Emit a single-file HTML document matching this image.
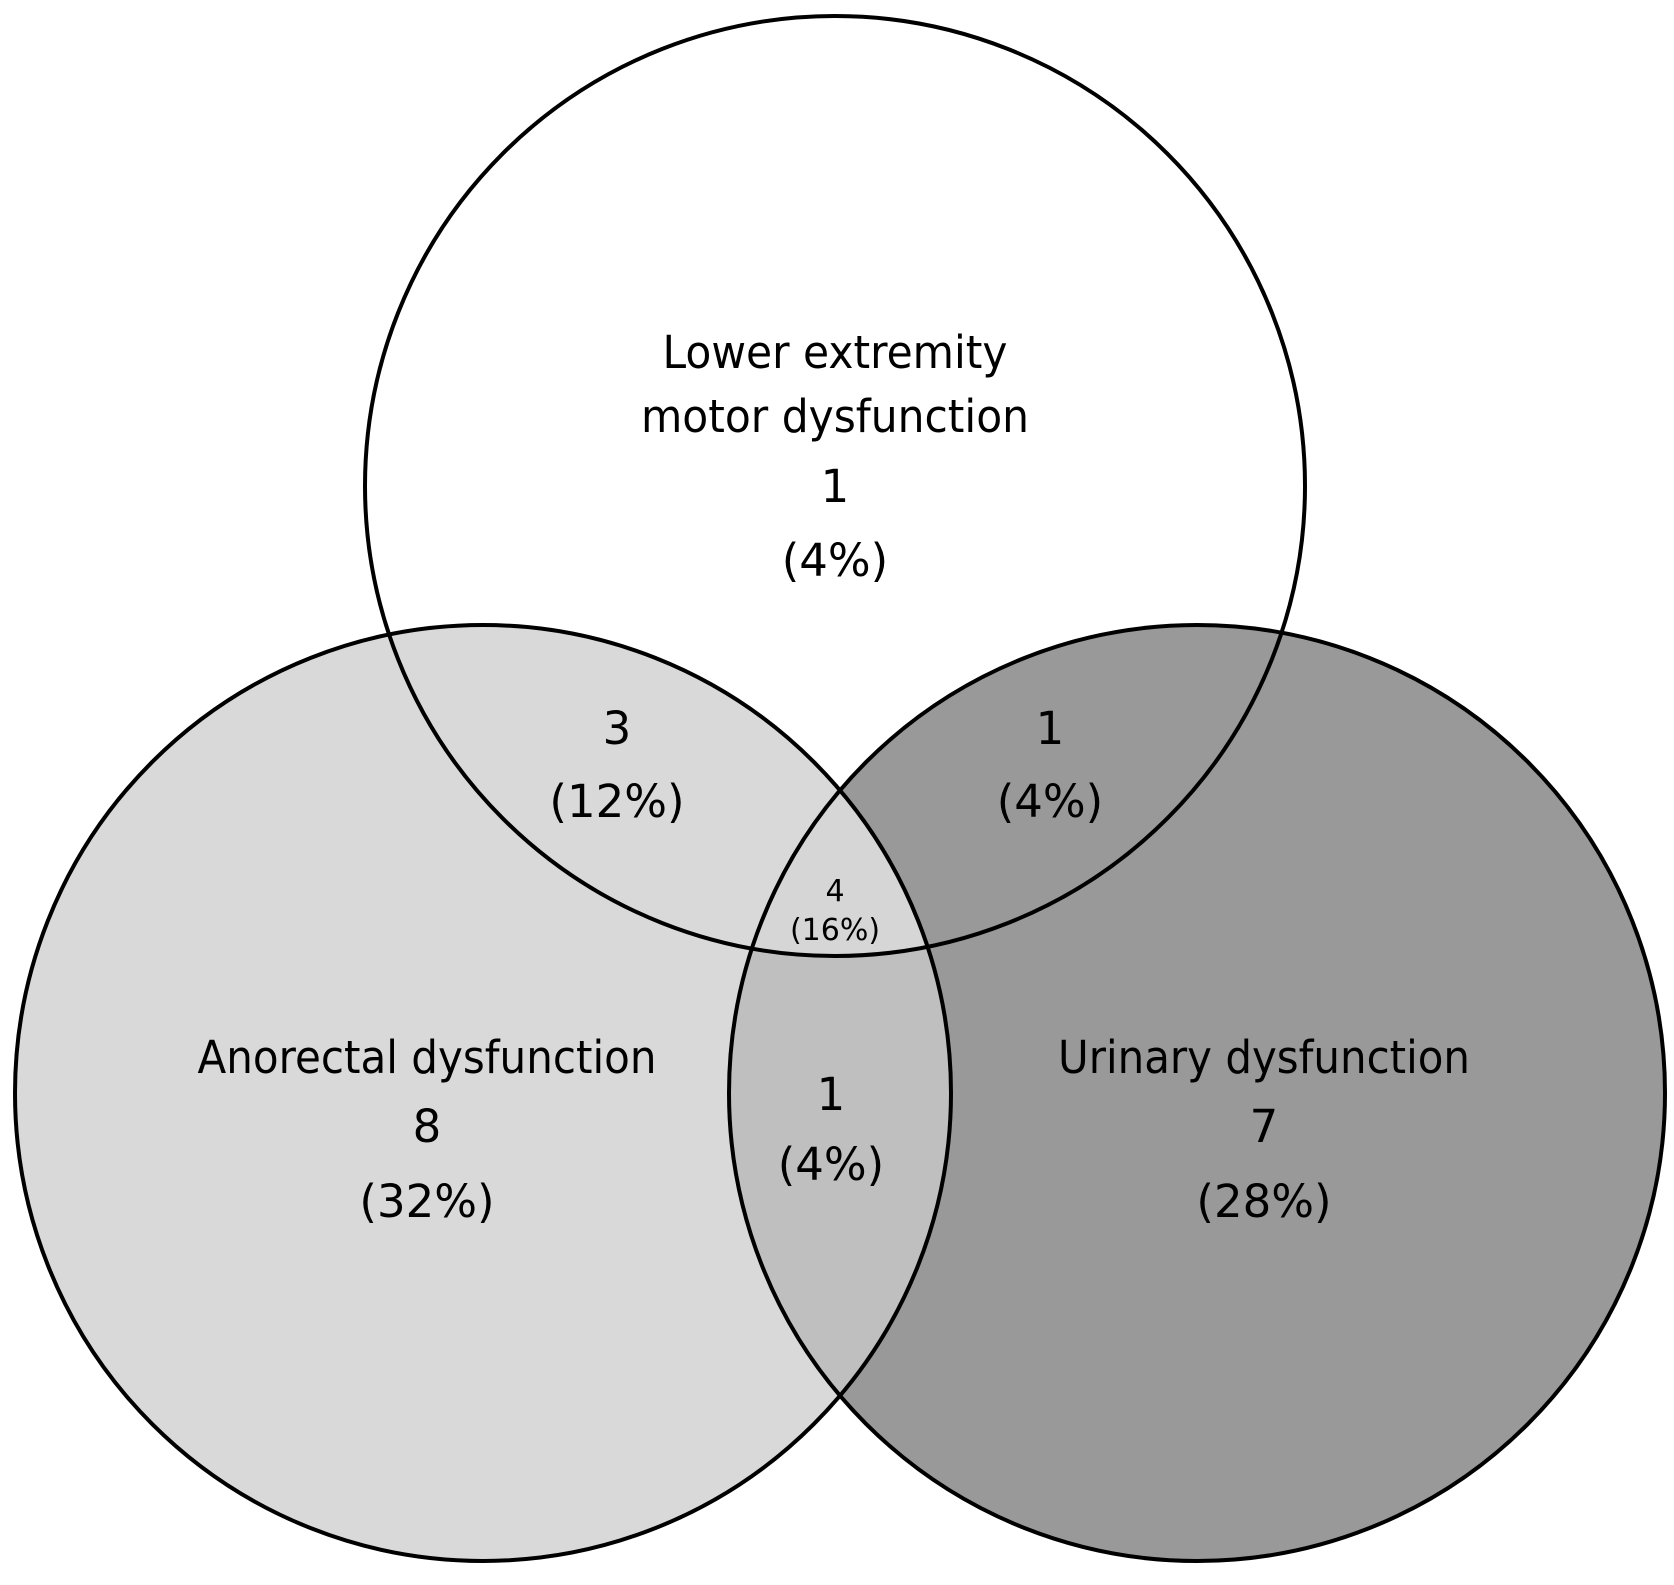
<!DOCTYPE html>
<html><head><meta charset="utf-8"><style>html,body{margin:0;padding:0;background:#fff}</style></head>
<body>
<svg width="1674" height="1580" viewBox="0 0 1674 1580" xmlns="http://www.w3.org/2000/svg">
<defs>
<clipPath id="cl"><circle cx="483" cy="1093" r="468"/></clipPath>
<clipPath id="ct"><circle cx="835" cy="486" r="470"/></clipPath>
</defs>
<rect width="1674" height="1580" fill="#fff"/>
<circle cx="1197" cy="1093" r="468" fill="#999"/>
<circle cx="483" cy="1093" r="468" fill="#d9d9d9"/>
<g clip-path="url(#cl)"><circle cx="1197" cy="1093" r="468" fill="#bfbfbf"/></g>
<g clip-path="url(#ct)"><g clip-path="url(#cl)"><circle cx="1197" cy="1093" r="468" fill="#d6d6d6"/></g></g>
<g fill="none" stroke="#000" stroke-width="4">
<circle cx="835" cy="486" r="470"/>
<circle cx="483" cy="1093" r="468"/>
<circle cx="1197" cy="1093" r="468"/>
</g>
<g font-family="'DejaVu Sans','Liberation Sans',sans-serif" font-size="45" text-anchor="middle" fill="#000">
<text x="835" y="368" textLength="345" lengthAdjust="spacingAndGlyphs">Lower extremity</text>
<text x="835" y="432" textLength="388" lengthAdjust="spacingAndGlyphs">motor dysfunction</text>
<text x="835" y="502">1</text>
<text x="835" y="576">(4%)</text>
<text x="617" y="744">3</text>
<text x="617" y="817">(12%)</text>
<text x="1050" y="744">1</text>
<text x="1050" y="817">(4%)</text>
<text x="427" y="1073" textLength="459" lengthAdjust="spacingAndGlyphs">Anorectal dysfunction</text>
<text x="427" y="1142">8</text>
<text x="427" y="1217">(32%)</text>
<text x="1264" y="1073" textLength="412" lengthAdjust="spacingAndGlyphs">Urinary dysfunction</text>
<text x="1264" y="1142">7</text>
<text x="1264" y="1217">(28%)</text>
<text x="831" y="1110">1</text>
<text x="831" y="1180">(4%)</text>
<text x="835" y="901" font-size="30">4</text>
<text x="835" y="940" font-size="30">(16%)</text>
</g>
</svg>
</body></html>
